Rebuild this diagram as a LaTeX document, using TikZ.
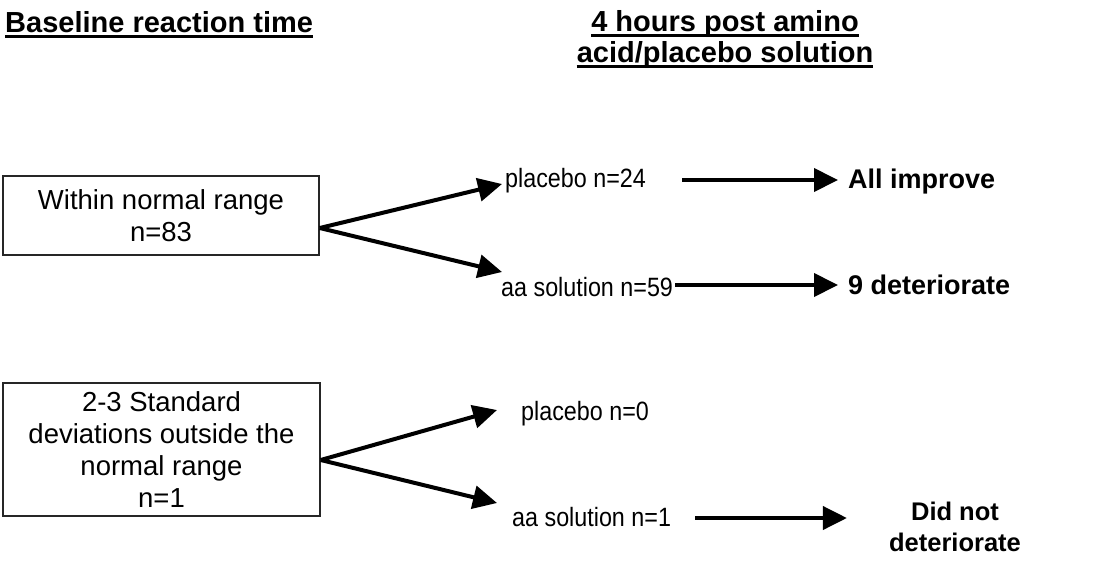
\documentclass[tikz,border=0pt]{standalone}
\usepackage{fontspec}
\setmainfont{Liberation Sans}
\newfontfamily\narrowsans[FakeStretch=0.88]{Liberation Sans}
\usetikzlibrary{arrows.meta}

\tikzset{
  x=1pt, y=-1pt,
  box/.style={draw=black!85, line width=1.4pt, align=center, inner sep=0pt,
              font=\fontsize{27.5}{32}\selectfont},
  title/.style={font=\fontsize{29}{30}\selectfont\bfseries, inner sep=0pt},
  label/.style={font=\narrowsans\fontsize{26.5}{28}\selectfont, inner sep=0pt},
  result/.style={font=\fontsize{27}{31}\selectfont\bfseries, inner sep=0pt, align=center},
  arr/.style={line width=4pt, -{Triangle[length=24pt,width=23pt]}},
  uline/.style={line width=2.4pt},
}

\begin{document}
\begin{tikzpicture}
\useasboundingbox (0,0) rectangle (1101,563);

% column headings
\node[title, anchor=base west] (h1) at (5,32) {Baseline reaction time};
\draw[uline] ([shift={(0,4.5)}]h1.base west) -- ([shift={(0,4.5)}]h1.base east);
\node[title, anchor=base] (h2a) at (725,31) {4 hours post amino};
\draw[uline] ([shift={(0,4.5)}]h2a.base west) -- ([shift={(0,4.5)}]h2a.base east);
\node[title, anchor=base] (h2b) at (725,62) {acid/placebo solution};
\draw[uline] ([shift={(0,4.5)}]h2b.base west) -- ([shift={(0,4.5)}]h2b.base east);

% baseline groups
\node[box, minimum width=316pt, minimum height=79pt] (b1) at (161,215.5)
  {Within normal range\\n=83};
\node[box, minimum width=317pt, minimum height=133pt] (b2) at (161.5,449.5)
  {2-3 Standard\\deviations outside the\\normal range\\n=1};

% treatment groups
\node[label, anchor=base west] (p1) at (505,187) {placebo n=24};
\node[label, anchor=base west] (a1) at (501,296) {aa solution n=59};
\node[label, anchor=base west] (p2) at (521,420) {placebo n=0};
\node[label, anchor=base west] (a2) at (512,526) {aa solution n=1};

% outcomes
\node[result, anchor=base west] (r1) at (848,188) {All improve};
\node[result, anchor=base west] (r2) at (848,294) {9 deteriorate};
\node[result, font=\fontsize{25.5}{31}\selectfont\bfseries, anchor=base] (r3) at (955,551)
  {Did not\\deteriorate};

% branches from the baseline groups
\draw[arr] ([shift={(0,12.5)}]b1.east) -- ([shift={(-3,-3)}]p1.base west);
\draw[arr] ([shift={(0,12.5)}]b1.east) -- ([shift={(1,-24)}]a1.base west);
\draw[arr] ([shift={(0,10.5)}]b2.east) -- ([shift={(-24,-10)}]p2.base west);
\draw[arr] ([shift={(0,10.5)}]b2.east) -- ([shift={(-15,-23)}]a2.base west);

% outcome arrows
\draw[arr] ([shift={(36,-7)}]p1.base east) -- ([shift={(-10,-8)}]r1.base west);
\draw[arr] ([shift={(2,-11)}]a1.base east) -- ([shift={(-10,-9)}]r2.base west);
\draw[arr] ([shift={(24,-8)}]a2.base east) -- ([shift={(-42,-33)}]r3.base west);
\end{tikzpicture}
\end{document}
